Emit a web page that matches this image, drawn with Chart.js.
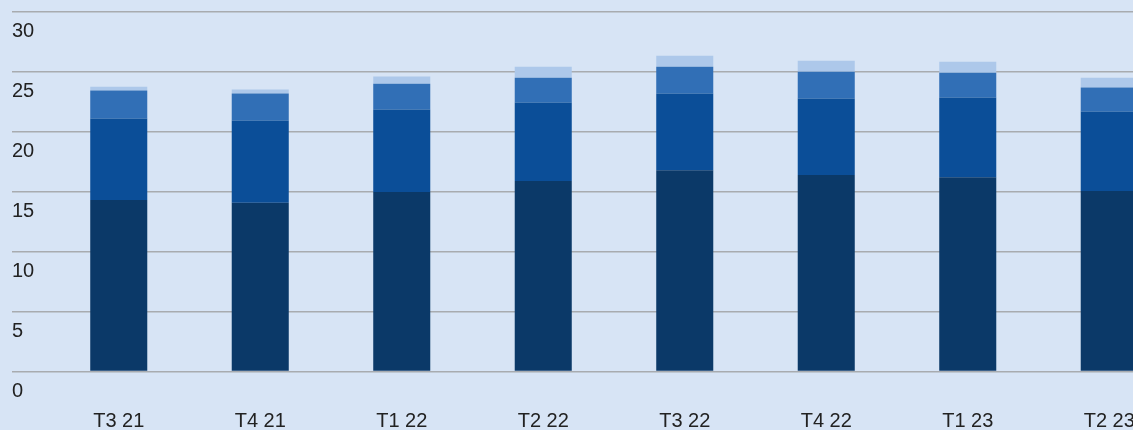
<!DOCTYPE html>
<html>
<head>
<meta charset="utf-8">
<script src="https://cdn.jsdelivr.net/npm/chart.js@4/dist/chart.umd.min.js"></script>
<style>
  html, body { margin: 0; padding: 0; background: #d7e4f5; overflow: hidden; }
  #wrap { width: 1180px; height: 430px; }
</style>
</head>
<body>
<div id="wrap"><canvas id="c" width="1180" height="430"></canvas></div>
<script>
const categories = ["T3 21", "T4 21", "T1 22", "T2 22", "T3 22", "T4 22", "T1 23", "T2 23"];
const series1 = [14.32, 14.09, 14.98, 15.89, 16.80, 16.39, 16.22, 15.06];
const series2 = [6.80, 6.86, 6.89, 6.55, 6.40, 6.39, 6.64, 6.64];
const series3 = [2.32, 2.25, 2.15, 2.08, 2.24, 2.24, 2.08, 1.99];
const series4 = [0.33, 0.33, 0.59, 0.91, 0.91, 0.91, 0.91, 0.83];
const yTicks = [0, 5, 10, 15, 20, 25, 30];

const colors = ["#0b3968", "#0b4e98", "#316fb6", "#adc8ea"];
const FONT = { family: "'Liberation Sans', Arial, sans-serif", size: 20 };

const bgPlugin = {
  id: 'bg',
  beforeDraw(chart) {
    const ctx = chart.ctx;
    ctx.save();
    ctx.fillStyle = '#d7e4f5';
    ctx.fillRect(0, 0, chart.width, chart.height);
    ctx.restore();
  }
};

const mk = (data, i) => ({
  data,
  backgroundColor: colors[i],
  borderWidth: 0,
  categoryPercentage: 0.403,
  barPercentage: 1.0
});

new Chart(document.getElementById('c'), {
  type: 'bar',
  data: {
    labels: categories,
    datasets: [mk(series1, 0), mk(series2, 1), mk(series3, 2), mk(series4, 3)]
  },
  options: {
    responsive: false,
    animation: false,
    layout: { padding: { left: 12, top: 9, right: 0, bottom: 0 } },
    plugins: { legend: { display: false }, tooltip: { enabled: false } },
    scales: {
      x: {
        stacked: true,
        grid: { display: false, drawTicks: false },
        border: { display: false },
        afterFit: (scale) => { scale.height = 58.5; },
        ticks: { color: '#222222', font: FONT, padding: 38, maxRotation: 0, autoSkip: false }
      },
      y: {
        stacked: true,
        min: 0,
        max: 30,
        afterBuildTicks: (scale) => { scale.ticks = yTicks.map(v => ({ value: v })); },
        afterFit: (scale) => { scale.width = 36; },
        grid: { color: '#a8abaf', lineWidth: 1.5, drawTicks: true, tickLength: 36 },
        border: { display: false },
        ticks: { color: '#222222', font: FONT, crossAlign: 'far', labelOffset: 19.5, padding: 0 }
      }
    }
  },
  plugins: [bgPlugin]
});
</script>
</body>
</html>
